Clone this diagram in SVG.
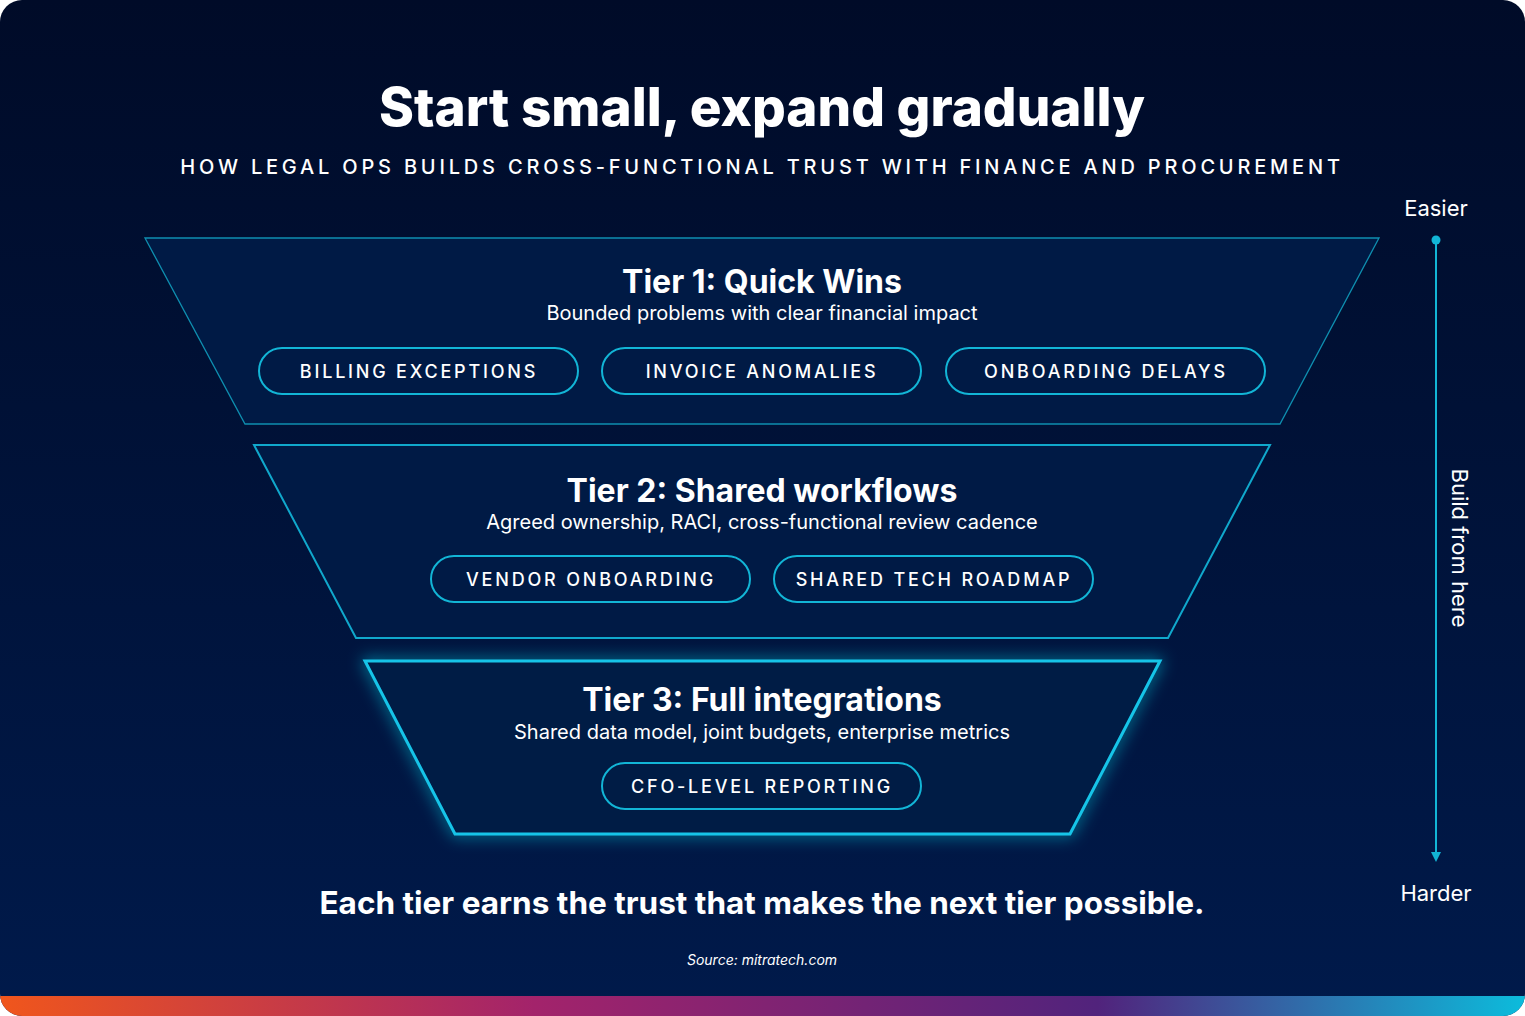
<svg xmlns="http://www.w3.org/2000/svg" width="1525" height="1016" viewBox="0 0 1525 1016">
<defs>
<linearGradient id="bg" x1="0" y1="0" x2="0" y2="1"><stop offset="0" stop-color="#000b28"/><stop offset="1" stop-color="#001a4b"/></linearGradient>
<linearGradient id="bar" x1="0" y1="0" x2="1" y2="0"><stop offset="0" stop-color="#f0561c"/><stop offset="0.35" stop-color="#a3236b"/><stop offset="0.72" stop-color="#51237c"/><stop offset="1" stop-color="#0cbcdc"/></linearGradient>
<clipPath id="card"><rect x="0" y="0" width="1525" height="1016" rx="22"/></clipPath>
<filter id="glow" x="-20%" y="-30%" width="140%" height="160%"><feGaussianBlur stdDeviation="8" result="b"/><feMerge><feMergeNode in="b"/><feMergeNode in="SourceGraphic"/></feMerge></filter>
<marker id="ah" viewBox="0 0 10 10" refX="5" refY="5" markerWidth="5" markerHeight="5" orient="auto"><path d="M0,0L10,5L0,10z" fill="#12b5d6"/></marker>
<style>
.t{font-family:Inter,"Noto Sans",sans-serif;fill:#fff}
.h{font-weight:700;font-size:32px}
.s{font-size:20px}
.pill{fill:none;stroke:#12b5d6;stroke-width:2}
.pt{font-family:Inter,"Noto Sans",sans-serif;fill:#fff;font-size:18px;letter-spacing:2.8px;font-weight:500}
</style>
</defs>
<g clip-path="url(#card)">
<rect width="1525" height="1016" fill="url(#bg)"/>
<rect y="996" width="1525" height="20" fill="url(#bar)"/>
</g>
<text class="t" x="762" y="126" text-anchor="middle" font-size="53" font-weight="800">Start small, expand gradually</text>
<text class="t" x="762" y="174" text-anchor="middle" font-size="20" font-weight="500" letter-spacing="3.8">HOW LEGAL OPS BUILDS CROSS-FUNCTIONAL TRUST WITH FINANCE AND PROCUREMENT</text>
<g id="tier1">
<polygon points="145,238 1379,238 1280,424 245,424" fill="#001a45" stroke="#0e8fb0" stroke-width="1.3"/>
<text class="t h" x="762" y="293" text-anchor="middle">Tier 1: Quick Wins</text>
<text class="t s" x="762" y="320" text-anchor="middle">Bounded problems with clear financial impact</text>
<rect class="pill" x="259" y="348" width="319" height="46" rx="23"/><text class="pt" x="419" y="378" text-anchor="middle">BILLING EXCEPTIONS</text>
<rect class="pill" x="602" y="348" width="319" height="46" rx="23"/><text class="pt" x="762" y="378" text-anchor="middle">INVOICE ANOMALIES</text>
<rect class="pill" x="946" y="348" width="319" height="46" rx="23"/><text class="pt" x="1106" y="378" text-anchor="middle">ONBOARDING DELAYS</text>
</g>
<g id="tier2">
<polygon points="254,445 1270,445 1168,638 356,638" fill="#001a45" stroke="#10a8cc" stroke-width="2"/>
<text class="t h" x="762" y="502" text-anchor="middle">Tier 2: Shared workflows</text>
<text class="t s" x="762" y="529" text-anchor="middle">Agreed ownership, RACI, cross-functional review cadence</text>
<rect class="pill" x="431" y="556" width="319" height="46" rx="23"/><text class="pt" x="591" y="586" text-anchor="middle">VENDOR ONBOARDING</text>
<rect class="pill" x="774" y="556" width="319" height="46" rx="23"/><text class="pt" x="934" y="586" text-anchor="middle">SHARED TECH ROADMAP</text>
</g>
<g id="tier3">
<polygon points="365,661 1160,661 1070,834 455,834" fill="#001a45" stroke="#15c4e8" stroke-width="3" filter="url(#glow)"/>
<text class="t h" x="762" y="711" text-anchor="middle">Tier 3: Full integrations</text>
<text class="t s" x="762" y="739" text-anchor="middle">Shared data model, joint budgets, enterprise metrics</text>
<rect class="pill" x="602" y="763" width="319" height="46" rx="23"/><text class="pt" x="762" y="793" text-anchor="middle">CFO-LEVEL REPORTING</text>
</g>
<g id="connectors">
<circle cx="1436" cy="240" r="4.5" fill="#12b5d6"/>
<line x1="1436" y1="240" x2="1436" y2="857" stroke="#12b5d6" stroke-width="2" marker-end="url(#ah)"/>
</g>
<text class="t" x="1436" y="216" text-anchor="middle" font-size="22">Easier</text>
<text class="t" x="1436" y="901" text-anchor="middle" font-size="22">Harder</text>
<text class="t" x="0" y="0" font-size="22" text-anchor="middle" transform="translate(1452,548) rotate(90)">Build from here</text>
<text class="t" x="762" y="914" text-anchor="middle" font-size="31.5" font-weight="700">Each tier earns the trust that makes the next tier possible.</text>
<text class="t" x="762" y="965" text-anchor="middle" font-size="14" font-style="italic" fill="#dfe6f2">Source: mitratech.com</text>
</svg>
